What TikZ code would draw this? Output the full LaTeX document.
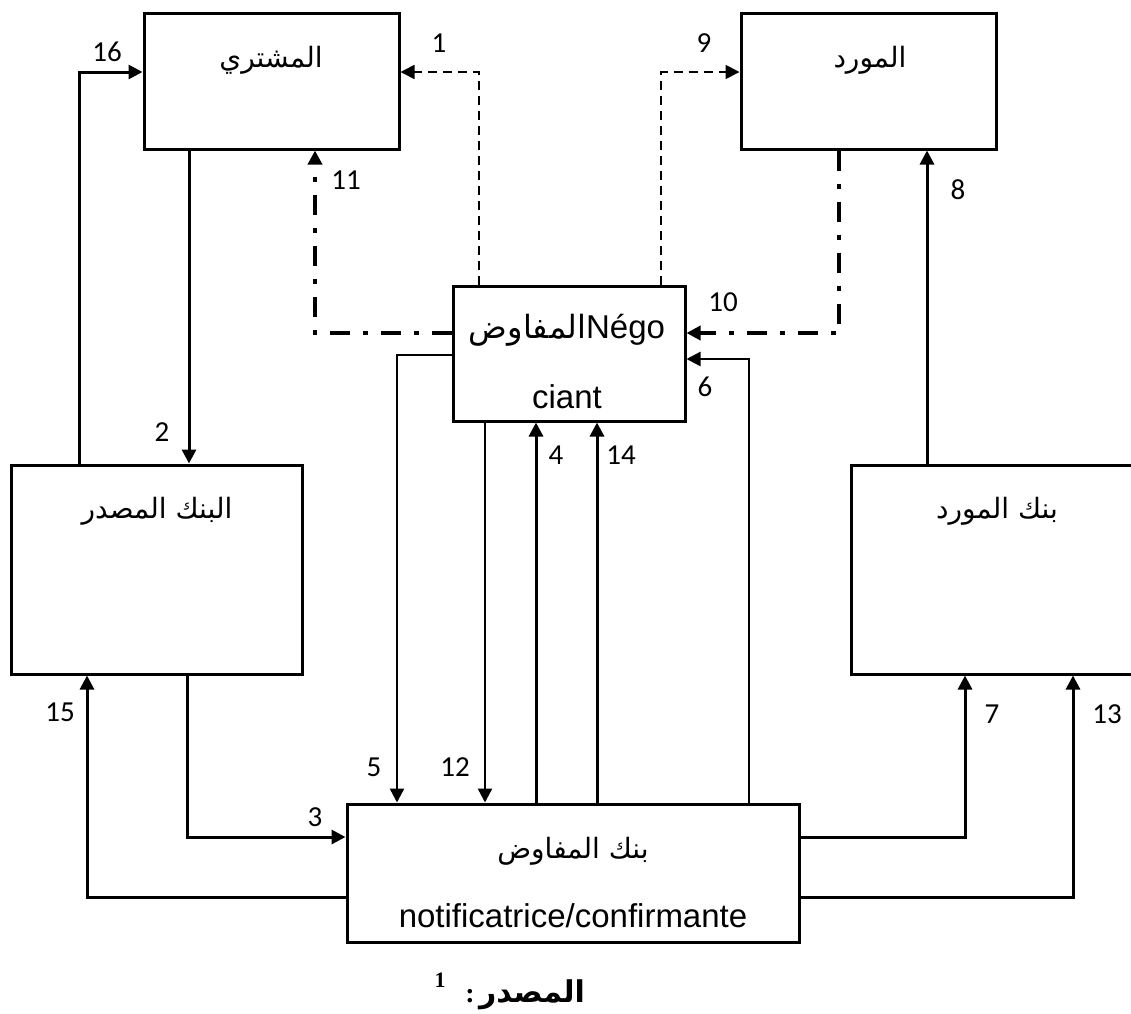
\documentclass[tikz,border=0pt]{standalone}
\usepackage{fontspec}
\setmainfont{Liberation Sans}
\newfontfamily\arabicfont[Script=Arabic]{DejaVu Sans}
\newfontfamily\numfont{Carlito}
\newfontfamily\capserif{Liberation Serif}
\TeXXeTstate=1
\usetikzlibrary{arrows.meta}
\begin{document}
\begin{tikzpicture}[x=1pt,y=-1pt,
  box/.style={draw, line width=3pt, rectangle, inner sep=0pt},
  artext/.style={inner sep=0pt, anchor=base, font=\arabicfont\fontsize{28}{32}\selectfont},
  lattext/.style={inner sep=0pt, anchor=base, font=\fontsize{33}{37}\selectfont},
  lbl/.style={inner sep=0pt, anchor=center, font=\numfont\fontsize{29}{32}\selectfont},
  arr/.style={-{Triangle[length=14pt,width=14pt]}},
  conn/.style={line width=3pt},
  thinconn/.style={line width=2.4pt},
  dashl/.style={line width=1.8pt, dash pattern=on 9pt off 6pt},
  dashdotl/.style={line width=4.5pt, dash pattern=on 20pt off 13pt on 5pt off 13pt}]
\useasboundingbox (0,0) rectangle (1131,1013);
\clip (0,0) rectangle (1131,1013);
\fill[white] (0,0) rectangle (1131,1013);
% boxes
\node[box, minimum width=255pt, minimum height=136pt] (buyer) at (271.5,81) {};
\node[artext] (buyerT) at (271,67) {\beginR المشتري\endR};
\node[box, minimum width=255pt, minimum height=136pt] (supplier) at (868.5,81) {};
\node[artext] (supplierT) at (870,67) {\beginR المورد\endR};
\node[box, minimum width=232pt, minimum height=135pt] (nego) at (569,353.5) {};
\node[lattext] (negoT1) at (567,338) {{\arabicfont\fontsize{32}{36}\selectfont\beginR المفاوض\endR}Négo};
\node[lattext] (negoT2) at (567,408) {ciant};
\node[box, minimum width=291pt, minimum height=209pt] (issuing) at (156.5,569.5) {};
\node[artext] (issuingT) at (157,518) {\beginR البنك المصدر\endR};
\node[box, minimum width=294pt, minimum height=209pt] (supbank) at (998,569.5) {};
\node[artext] (supbankT) at (997,518) {\beginR بنك المورد\endR};
\node[box, minimum width=452pt, minimum height=138pt] (bottom) at (573,873) {};
\node[artext] (bottomT1) at (573,858) {\beginR بنك المفاوض\endR};
\node[lattext] (bottomT2) at (573,927) {notificatrice/confirmante};
% connectors
\coordinate (c16) at (79,72);
\draw[conn,arr] (issuing.north -| c16) -- (c16) -- (buyer.west |- c16);
\coordinate (c2) at (189,0);
\draw[conn,arr] (buyer.south -| c2) -- (issuing.north -| c2);
\coordinate (c1) at (479,72);
\draw[dashl,arr] (nego.north -| c1) -- (c1) -- (buyer.east |- c1);
\coordinate (c9) at (661,72);
\draw[dashl,arr] (nego.north -| c9) -- (c9) -- (supplier.west |- c9);
\coordinate (c11) at (315,333);
\draw[dashdotl,arr] (nego.west |- c11) -- (c11) -- (buyer.south -| c11);
\coordinate (c10) at (839,333);
\draw[dashdotl,arr] (supplier.south -| c10) -- (c10) -- (nego.east |- c10);
\coordinate (c8) at (927,0);
\draw[conn,arr] (supbank.north -| c8) -- (supplier.south -| c8);
\coordinate (c6) at (749,359);
\draw[thinconn,arr] (bottom.north -| c6) -- (c6) -- (nego.east |- c6);
\coordinate (c5) at (397,355);
\draw[thinconn,arr] (nego.west |- c5) -- (c5) -- (bottom.north -| c5);
\coordinate (c12) at (485,0);
\draw[thinconn,arr] (nego.south -| c12) -- (bottom.north -| c12);
\coordinate (c4) at (536,0);
\draw[conn,arr] (bottom.north -| c4) -- (nego.south -| c4);
\coordinate (c14) at (597,0);
\draw[conn,arr] (bottom.north -| c14) -- (nego.south -| c14);
\coordinate (c3) at (187,837);
\draw[conn,arr] (issuing.south -| c3) -- (c3) -- (bottom.west |- c3);
\coordinate (c15) at (87,897);
\draw[conn,arr] (bottom.west |- c15) -- (c15) -- (issuing.south -| c15);
\coordinate (c7) at (965,837);
\draw[conn,arr] (bottom.east |- c7) -- (c7) -- (supbank.south -| c7);
\coordinate (c13) at (1073,897);
\draw[conn,arr] (bottom.east |- c13) -- (c13) -- (supbank.south -| c13);
% labels
\node[lbl] (l16) at (107,52) {16};
\node[lbl] (l1) at (439,43) {1};
\node[lbl] (l9) at (704,43) {9};
\node[lbl] (l11) at (346,180) {11};
\node[lbl] (l8) at (958,190) {8};
\node[lbl] (l2) at (162,432) {2};
\node[lbl] (l10) at (723,302) {10};
\node[lbl] (l6) at (705,387) {6};
\node[lbl] (l4) at (556,455) {4};
\node[lbl] (l14) at (621,455) {14};
\node[lbl] (l5) at (374,767) {5};
\node[lbl] (l12) at (455,767) {12};
\node[lbl] (l3) at (315,817) {3};
\node[lbl] (l15) at (60,712) {15};
\node[lbl] (l7) at (992,714) {7};
\node[lbl] (l13) at (1107,714) {13};
% caption
\node[inner sep=0pt, anchor=base, font=\arabicfont\bfseries\fontsize{30}{34}\selectfont] (capA) at (532,1002) {\beginR المصدر\endR};
\node[inner sep=0pt, anchor=base, font=\capserif\bfseries\fontsize{28}{32}\selectfont] (capC) at (470,1002) {:};
\node[inner sep=0pt, anchor=center, font=\capserif\bfseries\fontsize{22}{26}\selectfont] (capN) at (440,980) {1};
\end{tikzpicture}
\end{document}
